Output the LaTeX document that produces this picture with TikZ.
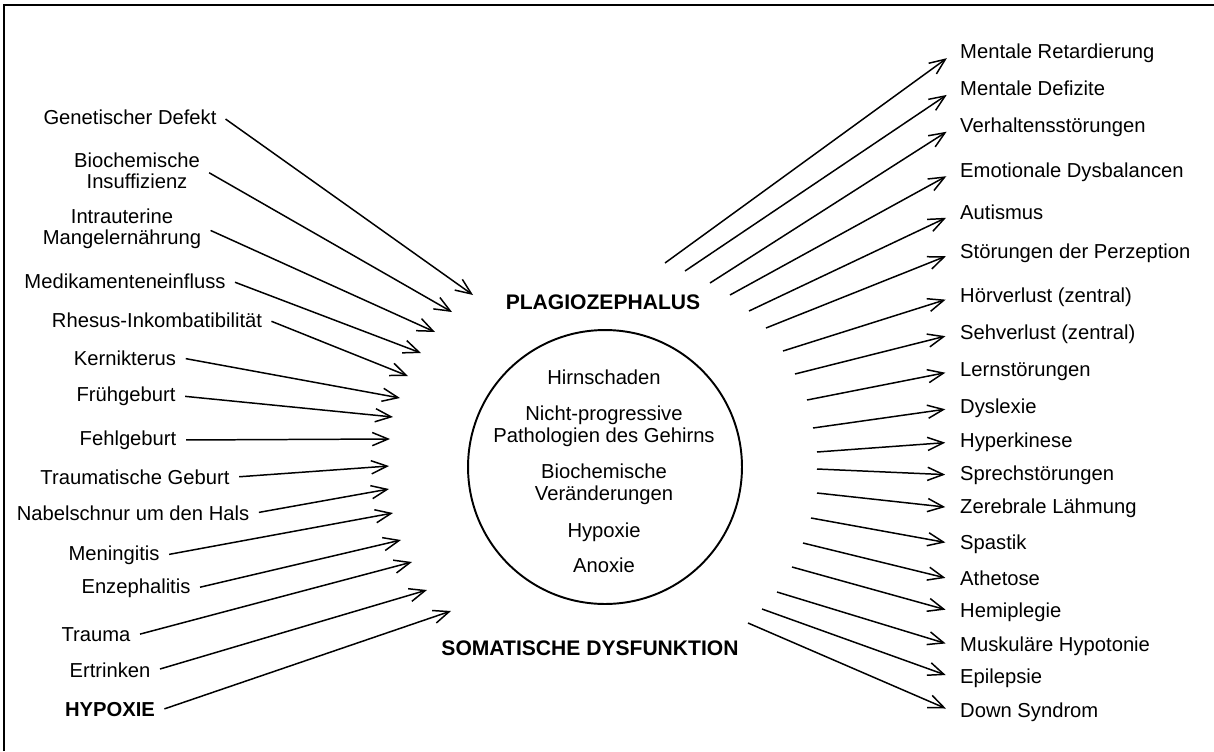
\documentclass[tikz,border=0pt]{standalone}
\usepackage{fontspec}
\setmainfont{Liberation Sans}
\usetikzlibrary{arrows.meta}

\begin{document}
\begin{tikzpicture}[x=0.02cm, y=-0.02cm,
    cause/.style={font=\fontsize{11.5}{12}\selectfont, align=center},
    effect/.style={font=\fontsize{11.5}{12}\selectfont, anchor=west, text height=1.6ex, text depth=0.4ex},
    heading/.style={font=\bfseries\fontsize{12}{14}\selectfont},
    inner/.style={font=\fontsize{11.5}{12.5}\selectfont, align=center},
    arr/.style={-{Straight Barb[length=9pt,width=7.5pt]}, line width=0.85pt}]
   \useasboundingbox (0,0) rectangle (1214,751);
   \draw[line width=1.2pt] (4,751) -- (4,5) -- (1214,5);

   \node[draw, circle, line width=1.1pt, minimum size=5.48cm, inner sep=0pt] (brain) at (605,467) {};
   \node[heading] (plagio) at (603,302) {PLAGIOZEPHALUS};
   \node[heading] (soma) at (590,648) {SOMATISCHE DYSFUNKTION};

   \node[inner] (hirn) at (604,377) {Hirnschaden};
   \node[inner] (patho) at (604,426) {Nicht-progressive\\Pathologien des Gehirns};
   \node[inner] (biover) at (604,484) {Biochemische\\Veränderungen};
   \node[inner] (hypo) at (604,532) {Hypoxie};
   \node[inner] (anox) at (604,565) {Anoxie};

   \node[cause] (gen) at (130,117) {Genetischer Defekt};
   \node[cause] (bio) at (137,171) {Biochemische\\Insuffizienz};
   \node[cause] (intra) at (122,229) {Intrauterine\\Mangelernährung};
   \node[cause] (medi) at (125,281) {Medikamenteneinfluss};
   \node[cause] (rhes) at (157,320) {Rhesus-Inkombatibilität};
   \node[cause] (kern) at (125,358) {Kernikterus};
   \node[cause] (frueh) at (126,396) {Frühgeburt};
   \node[cause] (fehl) at (128,440) {Fehlgeburt};
   \node[cause] (trgeb) at (135,477) {Traumatische Geburt};
   \node[cause] (nabel) at (133,513) {Nabelschnur um den Hals};
   \node[cause] (mening) at (114,555) {Meningitis};
   \node[cause] (enzeph) at (136,588) {Enzephalitis};
   \node[cause] (trauma) at (96,635) {Trauma};
   \node[cause] (ertr) at (110,670) {Ertrinken};
   \node[cause, font=\bfseries\fontsize{11.5}{12}\selectfont] (hypox) at (110,710) {HYPOXIE};

   \foreach \n/\tx/\ty in {gen/473/295, bio/452/312, intra/435/332, medi/421/353, rhes/408/376,
      kern/400/398, frueh/393/417, fehl/390/439, trgeb/389/466, nabel/389/489, mening/393/513,
      enzeph/401/540, trauma/412/562, ertr/427/590, hypox/451/611} {
    \coordinate (\n-tip) at (\tx,\ty);
    \draw[arr, shorten <=2pt] (\n.east) -- (\n-tip);
   }

   \node[effect] (retard) at (954,53) {Mentale Retardierung};
   \node[effect] (defiz) at (954,90) {Mentale Defizite};
   \node[effect] (verh) at (954,127) {Verhaltensstörungen};
   \node[effect] (emot) at (954,172) {Emotionale Dysbalancen};
   \node[effect] (autis) at (954,214) {Autismus};
   \node[effect] (perz) at (954,253) {Störungen der Perzeption};
   \node[effect] (hoer) at (954,297) {Hörverlust (zentral)};
   \node[effect] (seh) at (954,334) {Sehverlust (zentral)};
   \node[effect] (lern) at (954,371) {Lernstörungen};
   \node[effect] (dysl) at (954,408) {Dyslexie};
   \node[effect] (hyper) at (954,442) {Hyperkinese};
   \node[effect] (sprech) at (954,475) {Sprechstörungen};
   \node[effect] (zereb) at (954,508) {Zerebrale Lähmung};
   \node[effect] (spast) at (954,544) {Spastik};
   \node[effect] (athet) at (954,580) {Athetose};
   \node[effect] (hemi) at (954,612) {Hemiplegie};
   \node[effect] (muskel) at (954,646) {Muskuläre Hypotonie};
   \node[effect] (epil) at (954,678) {Epilepsie};
   \node[effect] (down) at (954,712) {Down Syndrom};

   \foreach \n/\sx/\sy in {retard/665/263, defiz/685/271, verh/710/283, emot/730/295, autis/749/311,
      perz/766/328, hoer/783/351, seh/795/374, lern/807/400, dysl/813/428, hyper/817/452,
      sprech/817/469, zereb/817/493, spast/811/518, athet/803/543, hemi/792/567, muskel/777/592,
      epil/762/609, down/748/623} {
    \coordinate (\n-from) at (\sx,\sy);
    \draw[arr, shorten >=5pt] (\n-from) -- (\n.west);
   }
\end{tikzpicture}
\end{document}
